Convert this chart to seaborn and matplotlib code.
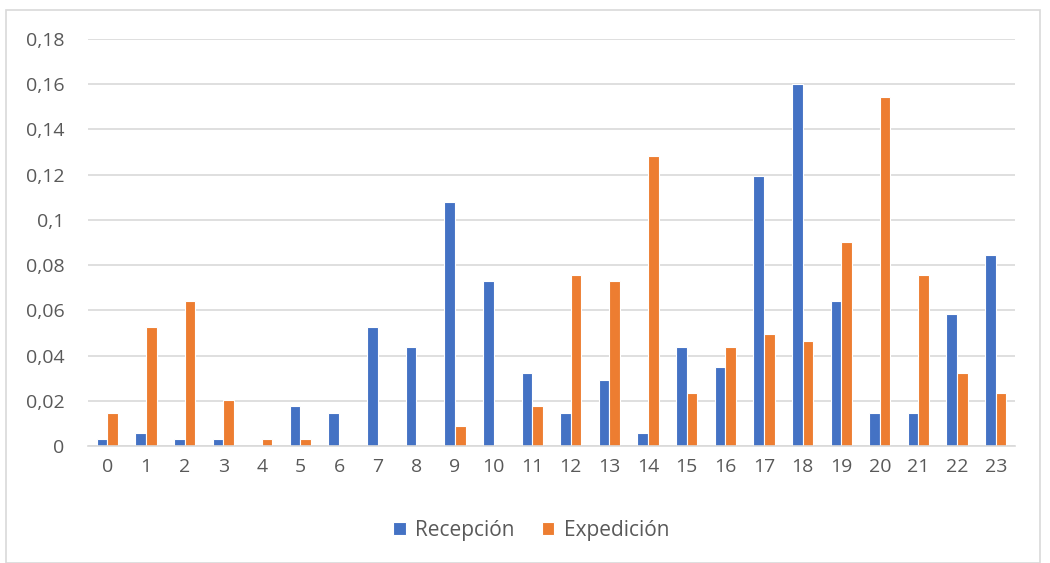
import pandas as pd
import numpy as np
import matplotlib
matplotlib.use("Agg")
import matplotlib.pyplot as plt
import seaborn as sns
from matplotlib.patches import Rectangle
from matplotlib.ticker import FuncFormatter

# --- Datos ---
horas = [str(h) for h in range(24)]
recepcion = [0.0029, 0.0058, 0.0029, 0.0029, 0.0, 0.0175, 0.0146, 0.0525,
             0.0437, 0.1079, 0.0729, 0.0321, 0.0146, 0.0292, 0.0058, 0.0437,
             0.035, 0.1195, 0.1603, 0.0641, 0.0146, 0.0146, 0.0583, 0.0845]
expedicion = [0.0146, 0.0525, 0.0641, 0.0204, 0.0029, 0.0029, 0.0, 0.0,
              0.0, 0.0087, 0.0, 0.0175, 0.0758, 0.0729, 0.1283, 0.0233,
              0.0437, 0.0496, 0.0466, 0.0904, 0.1545, 0.0758, 0.0321, 0.0233]
series = ["Recepción", "Expedición"]
colores = ["#4472C4", "#ED7D31"]

df = pd.DataFrame({
    "hora": horas * 2,
    "valor": recepcion + expedicion,
    "serie": [series[0]] * 24 + [series[1]] * 24,
})

sns.set_style("white")
plt.rcParams["font.family"] = ["Open Sans", "DejaVu Sans"]

fig = plt.figure(figsize=(10.5, 5.63), dpi=100)
ax = fig.add_axes([88 / 1050, 1 - 446 / 563, (1015 - 88) / 1050, (446 - 39) / 563])

sns.barplot(data=df, x="hora", y="valor", hue="serie", palette=colores,
            saturation=1, width=0.55, edgecolor="white", linewidth=0.8,
            ax=ax, legend=True)

ax.set_ylim(0, 0.18)
ax.set_yticks(np.arange(0, 0.181, 0.02))
ax.yaxis.set_major_formatter(FuncFormatter(
    lambda v, p: "0" if abs(v) < 1e-9 else f"{v:.2f}".rstrip("0").replace(".", ",")))
ax.grid(axis="y", color="#d9d9d9", linewidth=1.2)
ax.set_axisbelow(True)
for s in ["top", "right", "left"]:
    ax.spines[s].set_visible(False)
ax.spines["bottom"].set_color("#d9d9d9")
ax.spines["bottom"].set_linewidth(1.2)
ax.tick_params(axis="both", length=0, labelsize=14, colors="#595959")
ax.tick_params(axis="y", pad=17)
ax.tick_params(axis="x", pad=9)
ax.set_xlabel("")
ax.set_ylabel("")

leg = ax.legend(loc="center", bbox_to_anchor=(0.478, -0.208), ncol=2, frameon=False,
                fontsize=15, handlelength=0.6, handleheight=0.6, columnspacing=1.3,
                handletextpad=0.45)
for t in leg.get_texts():
    t.set_color("#595959")

# Borde exterior del gráfico
fig.patches.append(Rectangle((6 / 1050, 0), 1034 / 1050, 1 - 10 / 563,
                             transform=fig.transFigure, fill=False,
                             edgecolor="#d9d9d9", linewidth=1.2))

fig.savefig("out.png", dpi=100)
